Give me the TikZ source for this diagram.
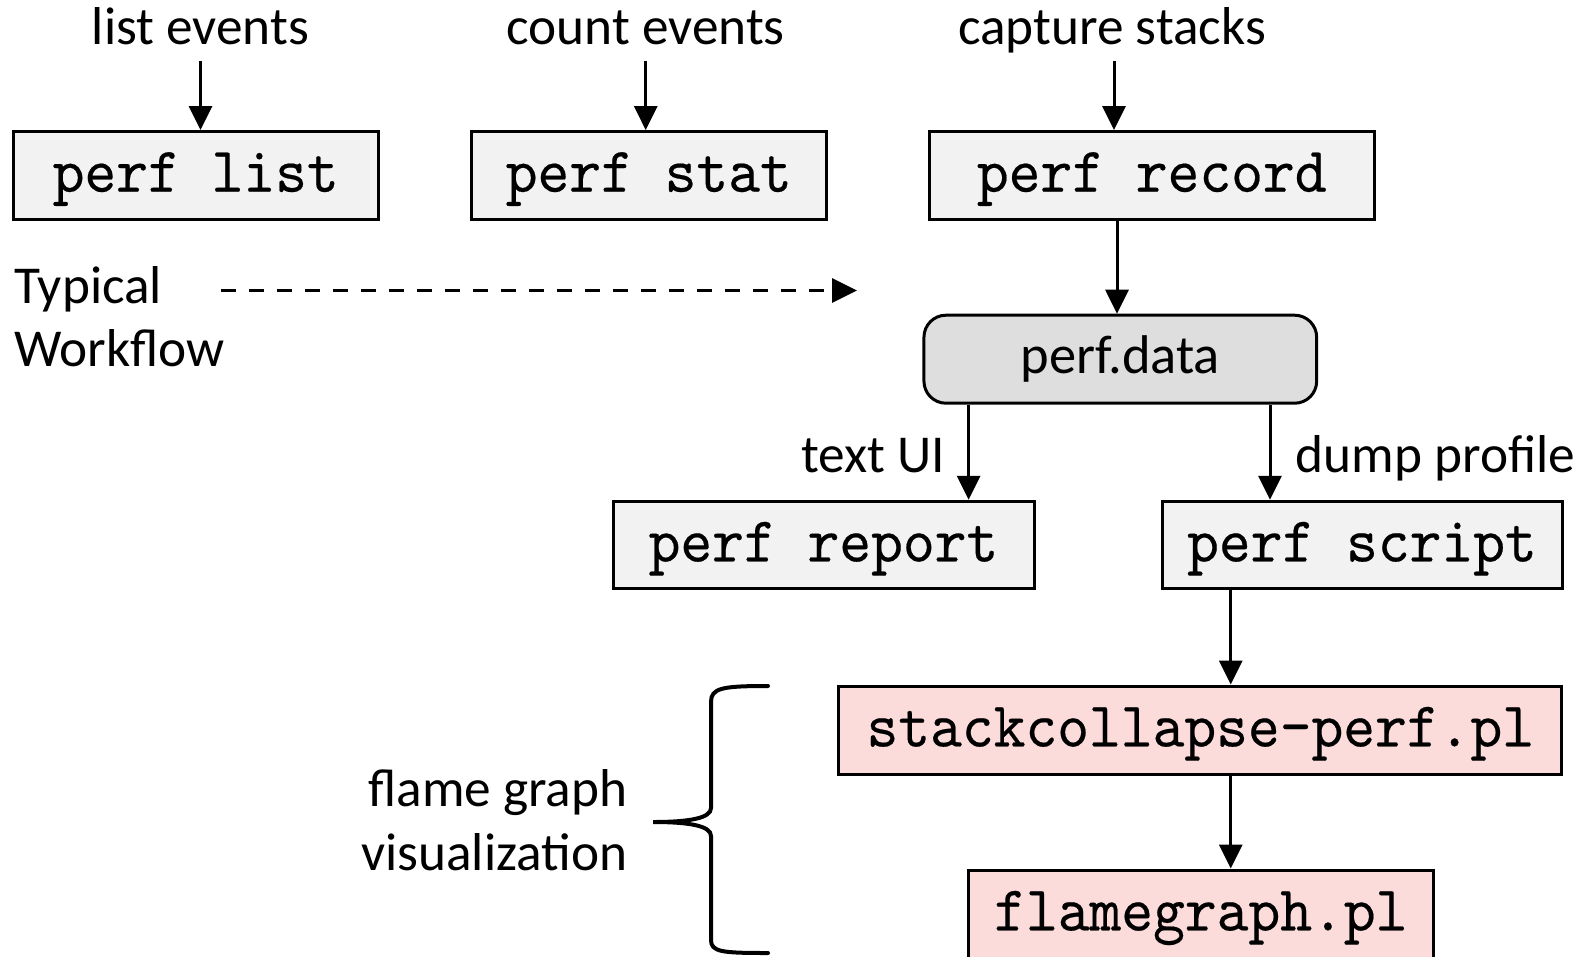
\documentclass[tikz,border=0pt]{standalone}
\usepackage{fontspec}
\setmainfont{Carlito}
\newfontfamily\monofont[FakeStretch=0.946,FakeBold=0.3]{lmmono10-regular.otf}
\usetikzlibrary{arrows.meta}
\definecolor{boxgray}{RGB}{242,242,242}
\definecolor{datagray}{RGB}{222,222,222}
\definecolor{pinkbox}{RGB}{252,219,219}
\tikzset{
  cmdbox/.style={draw=black, line width=3pt, fill=boxgray, rectangle, inner sep=0pt,
     minimum height=87.5pt, text height=40pt, text depth=7.2pt,
     font=\monofont\fontsize{64}{70}\selectfont},
  plbox/.style={cmdbox, fill=pinkbox},
  databox/.style={draw=black, line width=3pt, fill=datagray, rounded corners=22pt, inner sep=0pt,
     minimum height=88pt, text height=40pt, text depth=12pt, font=\fontsize{54.5}{60}\selectfont},
  lbl/.style={inner sep=0pt, font=\fontsize{53.3}{62}\selectfont},
  arr/.style={line width=3pt, -{Triangle[length=24pt,width=23pt]}},
}
\begin{document}
\begin{tikzpicture}[x=1pt,y=-1pt]
\useasboundingbox (0,0) rectangle (1587,956);
\begin{scope}
\clip (0,0) rectangle (1587,956);
% boxes
\node[cmdbox, minimum width=365.5pt] (plist) at (195.75,175.3) {perf list};
\node[cmdbox, minimum width=354.4pt] (pstat) at (648.8,175.3) {perf stat};
\node[cmdbox, minimum width=445.5pt] (precord) at (1151.75,175.3) {perf record};
\node[databox, minimum width=392.7pt] (pdata) at (1120.3,359.2) {perf.data};
\node[cmdbox, minimum width=421pt] (preport) at (823.5,545) {perf report};
\node[cmdbox, minimum width=400pt] (pscript) at (1362,545) {perf script};
\node[plbox, minimum width=722.7pt, minimum height=88pt] (stack) at (1200.3,730) {stackcollapse-perf.pl};
\node[plbox, minimum width=464.4pt, minimum height=88pt] (flame) at (1200.8,914) {flamegraph.pl};
% top labels
\node[lbl, anchor=base] (llist) at (200.5,44.5) {list events};
\node[lbl, anchor=base] (lcount) at (645.7,44.5) {count events};
\node[lbl, anchor=base] (lcapture) at (1112,44.5) {capture stacks};
\coordinate (a1) at (200.5,61);
\coordinate (a2) at (645.7,61);
\coordinate (a3) at (1114,61);
\draw[arr] (a1) -- (a1 |- plist.north);
\draw[arr] (a2) -- (a2 |- pstat.north);
\draw[arr] (a3) -- (a3 |- precord.north);
% typical workflow
\node[lbl, anchor=base west] (typ) at (14.2,303.6) {Typical};
\node[lbl, anchor=base west] (wf) at (14.2,366) {Workflow};
\coordinate (d1) at (220.6,290.5);
\coordinate (d2) at (857,290.5);
\draw[line width=3.5pt, dash pattern=on 15.6pt off 12.4pt, -{Triangle[length=25pt,width=24pt]}] (d1) -- (d2);
% record -> data
\coordinate (r1) at (1117,0);
\draw[arr] (r1 |- precord.south) -- (r1 |- pdata.north);
% data -> report/script
\coordinate (t1) at (968.6,0);
\coordinate (t2) at (1270,0);
\draw[arr] (t1 |- pdata.south) -- (t1 |- preport.north);
\draw[arr] (t2 |- pdata.south) -- (t2 |- pscript.north);
\node[lbl, anchor=base east] (ltext) at (945,472.6) {text UI};
\node[lbl, anchor=base west] (ldump) at (1295.5,472.6) {dump profile};
% script -> stack -> flame
\coordinate (s1) at (1230.7,0);
\draw[arr] (s1 |- pscript.south) -- (s1 |- stack.north);
\draw[arr] (s1 |- stack.south) -- (s1 |- flame.north);
% flame graph label and brace
\node[lbl, anchor=base east] (lfg1) at (627.5,806.6) {flame graph};
\node[lbl, anchor=base east] (lfg2) at (627.5,870.4) {visualization};
\draw[line width=4pt, line cap=round]
  (768,686) .. controls (722,686) and (711,688) .. (711,702)
  -- (711,808)
  .. controls (711,818) and (690,822) .. (653,822)
  .. controls (690,822) and (711,826) .. (711,836)
  -- (711,940)
  .. controls (711,952) and (722,953) .. (768,953);
\end{scope}
\end{tikzpicture}
\end{document}
